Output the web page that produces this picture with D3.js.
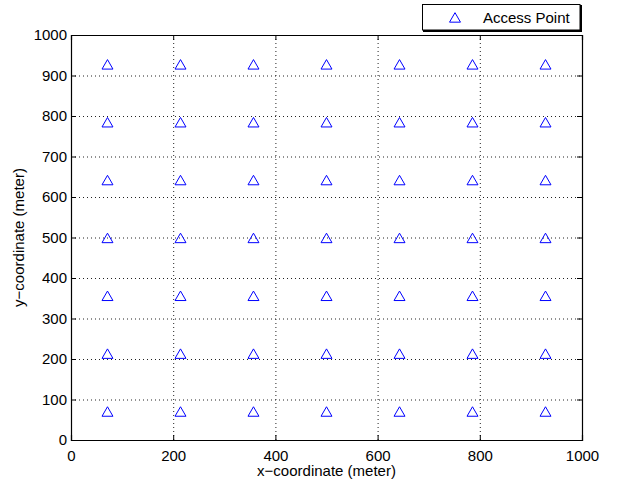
<!DOCTYPE html>
<html>
<head>
<meta charset="utf-8">
<script src="https://cdn.jsdelivr.net/npm/d3@7"></script>
<style>
  body { margin: 0; background: #fff; }
  text { font-family: "Liberation Sans", Arial, sans-serif; fill: #000; }
</style>
</head>
<body>
<script>
// --- data: access point grid positions (meters) ---
const apX = [71.4, 214.3, 357.1, 500, 642.9, 785.7, 928.6];
const apY = [71.4, 214.3, 357.1, 500, 642.9, 785.7, 928.6];
const xTicks = [0, 200, 400, 600, 800, 1000];
const yTicks = [0, 100, 200, 300, 400, 500, 600, 700, 800, 900, 1000];
const seriesName = "Access Point";

const W = 619, H = 481;
const pLeft = 71, pRight = 582, pTop = 35, pBottom = 440;

const svg = d3.select("body").append("svg")
    .attr("width", W)
    .attr("height", H);

const x = d3.scaleLinear().domain([0, 1000]).range([pLeft, pRight]);
const y = d3.scaleLinear().domain([0, 1000]).range([pBottom, pTop]);

// dotted grid
svg.append("g").selectAll("line")
    .data(xTicks.slice(1, -1))
    .join("line")
    .attr("x1", d => x(d) + 0.5).attr("x2", d => x(d) + 0.5)
    .attr("y1", pTop).attr("y2", pBottom)
    .attr("stroke", "#222").attr("stroke-width", 1)
    .attr("stroke-dasharray", "1,3");
svg.append("g").selectAll("line")
    .data(yTicks.slice(1, -1))
    .join("line")
    .attr("y1", d => y(d) + 0.5).attr("y2", d => y(d) + 0.5)
    .attr("x1", pLeft).attr("x2", pRight)
    .attr("stroke", "#222").attr("stroke-width", 1)
    .attr("stroke-dasharray", "1,3");

// axes (ticks pointing inward, MATLAB style)
const fmt = d3.format("d");
const axB = svg.append("g").attr("transform", `translate(0,${pBottom})`)
    .call(d3.axisBottom(x).tickValues(xTicks).tickSize(-5).tickPadding(10).tickFormat(fmt));
const axT = svg.append("g").attr("transform", `translate(0,${pTop})`)
    .call(d3.axisTop(x).tickValues(xTicks).tickSize(-5).tickFormat(""));
const axL = svg.append("g").attr("transform", `translate(${pLeft},0)`)
    .call(d3.axisLeft(y).tickValues(yTicks).tickSize(-5).tickPadding(4).tickFormat(fmt));
const axR = svg.append("g").attr("transform", `translate(${pRight},0)`)
    .call(d3.axisRight(y).tickValues(yTicks).tickSize(-5).tickFormat(""));

[axB, axT, axL, axR].forEach(a => {
    a.select(".domain").attr("stroke", "#000").attr("stroke-width", 1.2);
    a.selectAll(".tick line").attr("stroke", "#000");
    a.selectAll("text")
        .style("font-family", "'Liberation Sans', Arial, sans-serif")
        .style("font-size", "15px")
        .attr("fill", "#000");
});

// markers
const pts = [];
apY.forEach(py => apX.forEach(px => pts.push([px, py])));
const tri = d3.symbol().type(d3.symbolTriangle).size(52);
svg.append("g").selectAll("path")
    .data(pts)
    .join("path")
    .attr("transform", d => `translate(${x(d[0])},${y(d[1]) + 2})`)
    .attr("d", tri)
    .attr("fill", "none")
    .attr("stroke", "#0000ff")
    .attr("stroke-width", 1);

// axis labels
svg.append("text")
    .attr("x", (pLeft + pRight) / 2)
    .attr("y", 476)
    .attr("text-anchor", "middle")
    .style("font-size", "15px")
    .text("x\u2212coordinate (meter)");
svg.append("text")
    .attr("transform", `translate(24,${(pTop + pBottom) / 2}) rotate(-90)`)
    .attr("text-anchor", "middle")
    .style("font-size", "15px")
    .text("y\u2212coordinate (meter)");

// legend
const lg = svg.append("g");
lg.append("rect")
    .attr("x", 423).attr("y", 5).attr("width", 159).attr("height", 27)
    .attr("fill", "#000");
lg.append("rect")
    .attr("x", 422.5).attr("y", 4.5).attr("width", 157.5).attr("height", 25.5)
    .attr("fill", "#fff").attr("stroke", "#000").attr("stroke-width", 1);
lg.append("path")
    .attr("transform", "translate(455,19)")
    .attr("d", tri)
    .attr("fill", "none")
    .attr("stroke", "#0000ff");
lg.append("text")
    .attr("x", 483).attr("y", 23)
    .style("font-size", "15px")
    .text(seriesName);
</script>
</body>
</html>
